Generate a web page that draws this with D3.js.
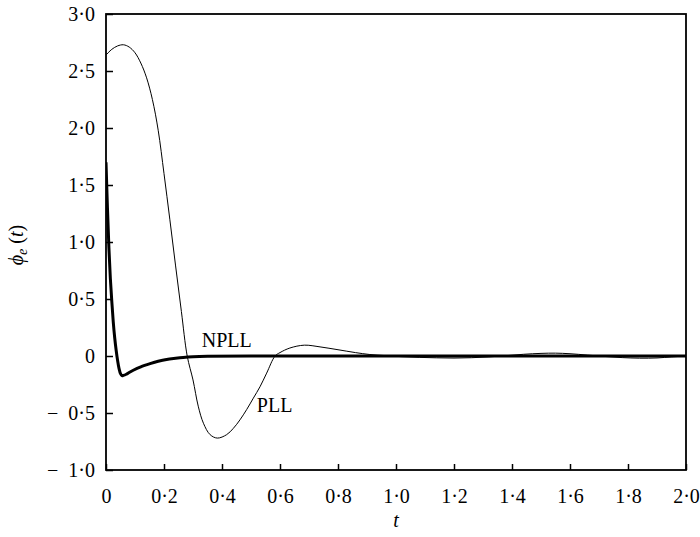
<!DOCTYPE html>
<html>
<head>
<meta charset="utf-8">
<script src="https://cdn.jsdelivr.net/npm/d3@7"></script>
<style>
  body { margin: 0; background: #fff; }
  text { font-family: "Liberation Serif", "Times New Roman", serif; fill: #000; }
</style>
</head>
<body>
<div id="chart"></div>
<script>
// PLL response (thin curve)
const tPLL = [0, 0.02, 0.04, 0.06, 0.08, 0.10, 0.12, 0.14, 0.16, 0.18, 0.20, 0.22, 0.24, 0.26, 0.28,
  0.30, 0.318, 0.336, 0.359, 0.384, 0.416, 0.439, 0.462, 0.485, 0.508, 0.531, 0.554, 0.583,
  0.60, 0.634, 0.684, 0.738, 0.80, 0.86, 0.91, 0.96, 1.02, 1.08, 1.14, 1.20, 1.26, 1.32, 1.38,
  1.44, 1.50, 1.55, 1.60, 1.66, 1.72, 1.78, 1.84, 1.90, 1.95, 2.0];
const vPLL = [2.64, 2.69, 2.72, 2.73, 2.71, 2.66, 2.57, 2.44, 2.25, 1.98, 1.60, 1.20, 0.79, 0.39, 0.0,
  -0.21, -0.44, -0.59, -0.69, -0.72, -0.69, -0.635, -0.56, -0.47, -0.37, -0.27, -0.15, 0.0,
  0.03, 0.07, 0.095, 0.08, 0.055, 0.03, 0.013, 0.004, -0.006, -0.012, -0.016, -0.018, -0.015, -0.008, 0.003,
  0.015, 0.023, 0.025, 0.02, 0.008, -0.004, -0.014, -0.019, -0.017, -0.008, 0.0];

// NPLL response (thick curve)
const tNPLL = [0, 0.005, 0.01, 0.015, 0.02, 0.025, 0.03, 0.035, 0.04, 0.045, 0.05, 0.055, 0.06,
  0.07, 0.08, 0.094, 0.12, 0.152, 0.18, 0.209, 0.24, 0.266, 0.30, 0.35, 0.5, 1.0, 1.5, 2.0];
const vNPLL = [1.70, 1.30, 0.95, 0.68, 0.48, 0.30, 0.16, 0.05, -0.04, -0.11, -0.155, -0.172, -0.17,
  -0.16, -0.145, -0.125, -0.095, -0.067, -0.046, -0.03, -0.02, -0.013, -0.007, -0.003, 0, 0, 0, 0];

const xTicks = [0, 0.2, 0.4, 0.6, 0.8, 1.0, 1.2, 1.4, 1.6, 1.8, 2.0];
const yTicks = [-1.0, -0.5, 0, 0.5, 1.0, 1.5, 2.0, 2.5, 3.0];

const curveLabels = [
  { name: 'NPLL', t: 0.33, v: 0.08 },
  { name: 'PLL', t: 0.52, v: -0.49 }
];

const width = 700, height = 537;
const margin = { top: 14, right: 14, bottom: 67, left: 106 };
const w = width - margin.left - margin.right;
const h = height - margin.top - margin.bottom;

const svg = d3.select('#chart').append('svg')
  .attr('width', width)
  .attr('height', height);

const g = svg.append('g')
  .attr('transform', `translate(${margin.left},${margin.top})`);

const x = d3.scaleLinear().domain([0, 2]).range([0, w]);
const y = d3.scaleLinear().domain([-1, 3]).range([h, 0]);

// numbers written with a raised dot, like the journal style
const fmt = d => {
  if (d === 0) return '0';
  const s = Math.abs(d).toFixed(1).replace('.', '·');
  return d < 0 ? '−\u2002' + s : s;
};

const xAxis = d3.axisBottom(x).tickValues(xTicks).tickSize(-6).tickPadding(19).tickFormat(fmt);
const yAxis = d3.axisLeft(y).tickValues(yTicks).tickSize(-7).tickPadding(11).tickFormat(fmt);

const xg = g.append('g').attr('transform', `translate(0,${h})`).call(xAxis);
const yg = g.append('g').call(yAxis);

[xg, yg].forEach(a => {
  a.select('.domain').remove();
  a.selectAll('line').attr('stroke', '#000').attr('stroke-width', 1.5);
  a.selectAll('text').style('font-size', '20px').style('font-family', '"Liberation Serif", serif');
});

// curves
g.append('defs').append('clipPath').attr('id', 'plot-clip')
  .append('rect').attr('width', w).attr('height', h);

const line = d3.line()
  .x(d => x(d[0]))
  .y(d => y(d[1]))
  .curve(d3.curveCatmullRom.alpha(0.5));

const plot = g.append('g').attr('clip-path', 'url(#plot-clip)');

plot.append('path')
  .datum(d3.zip(tPLL, vPLL))
  .attr('fill', 'none')
  .attr('stroke', '#000')
  .attr('stroke-width', 1)
  .attr('d', line);

plot.append('path')
  .datum(d3.zip(tNPLL, vNPLL))
  .attr('fill', 'none')
  .attr('stroke', '#000')
  .attr('stroke-width', 3)
  .attr('stroke-linejoin', 'round')
  .attr('d', line);

// frame
g.append('rect')
  .attr('width', w)
  .attr('height', h)
  .attr('fill', 'none')
  .attr('stroke', '#000')
  .attr('stroke-width', 1.8);

// curve labels
g.selectAll('.curve-label')
  .data(curveLabels)
  .enter().append('text')
  .attr('class', 'curve-label')
  .attr('x', d => x(d.t))
  .attr('y', d => y(d.v))
  .style('font-size', '20px')
  .text(d => d.name);

// axis titles
g.append('text')
  .attr('x', w / 2)
  .attr('y', h + 57)
  .attr('text-anchor', 'middle')
  .style('font-size', '20px')
  .style('font-style', 'italic')
  .text('t');

const yt = svg.append('text')
  .attr('transform', 'translate(23,245) rotate(-90)')
  .attr('text-anchor', 'middle')
  .style('font-size', '20px');
yt.append('tspan').style('font-style', 'italic').text('ϕ');
yt.append('tspan').style('font-style', 'italic').style('font-size', '14px').attr('dy', 4).text('e');
yt.append('tspan').attr('dy', -4).text(' (');
yt.append('tspan').style('font-style', 'italic').text('t');
yt.append('tspan').text(')');
</script>
</body>
</html>
